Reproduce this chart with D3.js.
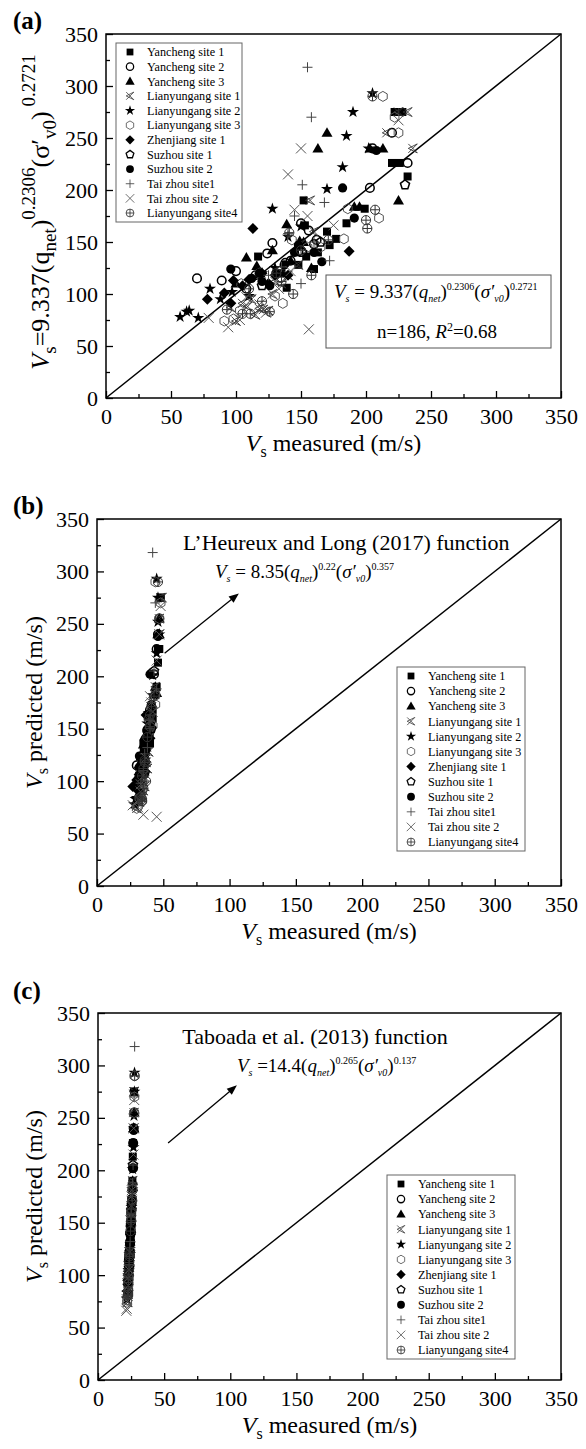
<!DOCTYPE html>
<html>
<head>
<meta charset="utf-8">
<script src="https://cdn.jsdelivr.net/npm/d3@7"></script>
<style>
  body { margin: 0; background: #fff; }
  svg { display: block; }
  svg text { font-family: "Liberation Serif", "Times New Roman", serif !important; }
</style>
</head>
<body>
<svg id="chart" width="586" height="1449"></svg>
<script>
// ---- data: per site, measured Vs (panel a x), predicted Vs (y, all panels),
// L'Heureux & Long value (panel b x), Taboada value (panel c x)
const siteNames = ["Yancheng site 1", "Yancheng site 2", "Yancheng site 3", "Lianyungang site 1",
  "Lianyungang site 2", "Lianyungang site 3", "Zhenjiang site 1", "Suzhou site 1", "Suzhou site 2",
  "Tai zhou site1", "Tai zhou site 2", "Lianyungang site4"];
const siteSymbols = ["square", "circle", "triangle", "bowtie", "star", "hexagon", "diamond",
  "pentagon", "dot", "plus", "cross", "oplus"];

const yc1Meas = [117, 154, 160, 170, 177, 172, 199, 152, 222, 228, 220, 226, 139, 232, 135, 148, 163, 185, 153];
const yc1Pred = [136, 136, 124, 160, 153, 147, 182, 190, 275, 275, 226, 226, 106, 213, 120, 128, 140, 168, 166];
const yc1LH   = [35, 40, 36, 42, 41, 40, 44, 45, 48, 48, 46, 47, 34, 46, 35, 37, 38, 42, 41];
const yc1TB   = [24.5, 24.6, 24.2, 25.3, 25.2, 25.0, 25.9, 26.0, 27.2, 27.3, 26.4, 26.5, 23.6, 26.3, 23.9, 24.1, 24.5, 25.5, 25.4];

const yc2Meas = [70, 89, 100, 124, 128, 148, 150, 160, 203, 205, 220, 232, 156, 142, 108, 115, 138, 162];
const yc2Pred = [115, 113, 122, 139, 149, 141, 168, 148, 202, 240, 255, 226, 161, 132, 105, 118, 130, 152];
const yc2LH   = [30, 32, 33, 36, 38, 37, 40, 38, 43, 46, 47, 45, 39, 36, 32, 34, 36, 40];
const yc2TB   = [23.4, 23.3, 23.8, 24.5, 24.8, 24.7, 25.4, 24.9, 26.5, 27.0, 27.4, 26.6, 25.2, 24.3, 23.2, 23.8, 24.2, 25.0];

const yc3Meas = [108, 116, 128, 139, 158, 149, 191, 163, 170, 195, 203, 213, 225, 100, 118, 142, 152];
const yc3Pred = [135, 127, 142, 167, 125, 151, 184, 240, 255, 184, 240, 240, 190, 110, 120, 132, 150];
const yc3LH   = [35, 34, 37, 40, 36, 39, 44, 46, 47, 45, 46, 47, 44, 32, 35, 37, 39];
const yc3TB   = [24.2, 24.0, 24.5, 25.3, 24.4, 24.9, 26.0, 27.0, 27.4, 26.1, 27.1, 27.0, 26.2, 23.5, 23.9, 24.2, 24.8];

const lyg1Meas = [96, 105, 118, 121, 125, 100, 112, 130, 148, 157, 225, 232, 236, 140, 216, 109, 115, 128, 135, 150, 160];
const lyg1Pred = [87, 91, 86, 85, 84, 74, 95, 112, 128, 190, 275, 275, 240, 118, 255, 88, 80, 100, 110, 148, 160];
const lyg1LH   = [33, 35, 34, 33, 34, 30, 36, 38, 39, 44, 48, 49, 47, 37, 47, 33, 32, 35, 36, 39, 41];
const lyg1TB   = [23.0, 23.2, 23.0, 22.9, 22.8, 22.4, 23.3, 24.0, 24.5, 26.2, 27.2, 27.3, 27.0, 23.9, 27.2, 22.9, 22.6, 23.3, 23.6, 24.8, 25.2];

const lyg2Meas = [57, 62, 64, 71, 80, 88, 110, 128, 130, 140, 150, 170, 182, 190, 205, 202, 185, 97, 120];
const lyg2Pred = [78, 83, 84, 77, 105, 95, 98, 182, 125, 155, 165, 201, 222, 275, 293, 240, 252, 102, 120];
const lyg2LH   = [28, 29, 30, 29, 32, 31, 33, 42, 35, 38, 39, 42, 45, 46, 45, 47, 46, 32, 34];
const lyg2TB   = [21.9, 22.1, 22.2, 21.9, 23.0, 22.6, 22.9, 25.9, 24.1, 24.9, 25.3, 26.2, 26.8, 27.5, 27.6, 27.0, 27.2, 23.1, 23.7];

const lyg3Meas = [91, 98, 136, 143, 183, 210, 186, 213, 225, 222, 165, 118, 103, 130, 155, 104];
const lyg3Pred = [74, 76, 91, 152, 153, 173, 182, 290, 255, 270, 145, 120, 84, 98, 145, 110];
const lyg3LH   = [30, 31, 34, 40, 42, 44, 44, 44, 47, 48, 39, 34, 32, 34, 39, 33];
const lyg3TB   = [22.0, 22.1, 22.9, 25.0, 25.1, 25.7, 26.0, 27.6, 27.3, 27.5, 24.8, 23.8, 22.8, 23.2, 24.7, 23.5];

const zj1Meas = [78, 91, 96, 113, 187, 110, 120, 125, 140, 98, 105, 130];
const zj1Pred = [95, 101, 91, 163, 141, 114, 120, 110, 118, 113, 108, 118];
const zj1LH   = [27, 30, 31, 37, 40, 34, 35, 34, 37, 32, 33, 35];
const zj1TB   = [22.5, 22.8, 22.6, 25.1, 24.8, 23.6, 23.9, 23.5, 23.9, 23.4, 23.4, 23.7];

const sz1Meas = [230, 165, 151, 120];
const sz1Pred = [205, 150, 140, 108];
const sz1LH   = [43, 41, 39, 36];
const sz1TB   = [26.4, 25.0, 24.6, 23.6];

const sz2Meas = [96, 126, 166, 191, 148, 118, 182, 208, 112, 160, 137, 145, 120];
const sz2Pred = [124, 108, 131, 173, 147, 120, 202, 238, 115, 140, 128, 140, 112];
const sz2LH   = [32, 35, 37, 41, 38, 34, 40, 46, 33, 38, 36, 38, 35];
const sz2TB   = [23.8, 23.5, 24.4, 25.6, 24.6, 23.8, 26.3, 27.0, 23.7, 24.5, 24.1, 24.4, 23.6];

const tz1Meas = [155, 158, 172, 111, 151, 140, 168, 145, 125, 135, 160, 150];
const tz1Pred = [318, 270, 132, 98, 205, 158, 188, 175, 118, 126, 150, 110];
const tz1LH   = [42, 44, 38, 33, 43, 40, 45, 41, 36, 36, 40, 35];
const tz1TB   = [27.7, 27.3, 24.3, 22.8, 26.5, 25.1, 26.1, 25.6, 23.8, 24.0, 24.9, 23.5];

const tz2Meas = [94, 156, 79, 103, 145, 155, 175, 150, 225, 140, 108, 118, 123, 133, 142];
const tz2Pred = [68, 66, 77, 75, 181, 175, 166, 240, 267, 215, 97, 90, 82, 105, 122];
const tz2LH   = [35, 45, 27, 31, 40, 41, 42, 47, 48, 45, 33, 33, 32, 35, 37];
const tz2TB   = [21.7, 21.4, 21.8, 22.2, 25.6, 25.4, 25.3, 27.0, 27.4, 26.8, 22.6, 22.9, 22.7, 23.4, 23.9];

const lyg4Meas = [93, 105, 111, 120, 126, 144, 141, 200, 201, 207, 205, 131, 171, 110, 135, 150, 158];
const lyg4Pred = [85, 81, 81, 93, 83, 100, 159, 171, 163, 181, 290, 120, 152, 105, 112, 142, 118];
const lyg4LH   = [33, 34, 34, 35, 34, 37, 39, 41, 40, 43, 46, 36, 40, 34, 35, 38, 36];
const lyg4TB   = [22.8, 22.6, 22.7, 23.0, 22.7, 23.4, 25.0, 25.9, 25.4, 26.1, 27.7, 23.9, 25.1, 23.4, 23.6, 24.6, 23.8];

const majorTicks = [0, 50, 100, 150, 200, 250, 300, 350];
const minorTicks = [25, 75, 125, 175, 225, 275, 325];

const measBySite = [yc1Meas, yc2Meas, yc3Meas, lyg1Meas, lyg2Meas, lyg3Meas, zj1Meas, sz1Meas, sz2Meas, tz1Meas, tz2Meas, lyg4Meas];
const predBySite = [yc1Pred, yc2Pred, yc3Pred, lyg1Pred, lyg2Pred, lyg3Pred, zj1Pred, sz1Pred, sz2Pred, tz1Pred, tz2Pred, lyg4Pred];
const lhBySite   = [yc1LH, yc2LH, yc3LH, lyg1LH, lyg2LH, lyg3LH, zj1LH, sz1LH, sz2LH, tz1LH, tz2LH, lyg4LH];
const tbBySite   = [yc1TB, yc2TB, yc3TB, lyg1TB, lyg2TB, lyg3TB, zj1TB, sz1TB, sz2TB, tz1TB, tz2TB, lyg4TB];

const svg = d3.select("#chart");
const plotRight = 561;

// symbol drawing
function polyPath(n, r, rot) {
  const pts = d3.range(n).map(i => {
    const a = rot + i * 2 * Math.PI / n;
    return [r * Math.cos(a), r * Math.sin(a)];
  });
  return "M" + pts.map(p => p[0].toFixed(2) + "," + p[1].toFixed(2)).join("L") + "Z";
}

function marker(g, type, x, y, k) {
  k = k || 1;
  const m = g.append("g").attr("transform", `translate(${x},${y}) scale(${k})`);
  if (type === "square") {
    m.append("rect").attr("x", -4).attr("y", -4).attr("width", 8).attr("height", 8).attr("fill", "#000");
  } else if (type === "circle") {
    m.append("circle").attr("r", 4.3).attr("fill", "none").attr("stroke", "#000").attr("stroke-width", 1.5);
  } else if (type === "triangle") {
    m.append("path").attr("d", "M0,-5.5L5.5,4L-5.5,4Z").attr("fill", "#000");
  } else if (type === "bowtie") {
    m.append("path").attr("d", "M-4.5,-4.5L4.5,4.5M-4.5,4.5L4.5,-4.5M4.5,-4.5L-4.5,0L4.5,4.5")
      .attr("fill", "none").attr("stroke", "#333").attr("stroke-width", 0.9);
  } else if (type === "star") {
    m.append("path").attr("d", d3.symbol(d3.symbolStar, 45)()).attr("fill", "#000");
  } else if (type === "hexagon") {
    m.append("path").attr("d", polyPath(6, 5, Math.PI / 2)).attr("fill", "none")
      .attr("stroke", "#555").attr("stroke-width", 1);
  } else if (type === "diamond") {
    m.append("path").attr("d", "M0,-5.5L5.5,0L0,5.5L-5.5,0Z").attr("fill", "#000");
  } else if (type === "pentagon") {
    m.append("path").attr("d", polyPath(5, 4.8, -Math.PI / 2)).attr("fill", "none")
      .attr("stroke", "#000").attr("stroke-width", 1.5);
  } else if (type === "dot") {
    m.append("circle").attr("r", 4.6).attr("fill", "#000");
  } else if (type === "plus") {
    m.append("path").attr("d", "M-5,0H5M0,-5V5").attr("stroke", "#444").attr("stroke-width", 1);
  } else if (type === "cross") {
    m.append("path").attr("d", "M-5,-5L5,5M-5,5L5,-5").attr("stroke", "#555").attr("stroke-width", 1);
  } else if (type === "oplus") {
    m.append("circle").attr("r", 4.6).attr("fill", "none").attr("stroke", "#333").attr("stroke-width", 1);
    m.append("path").attr("d", "M-4.6,0H4.6M0,-4.6V4.6").attr("stroke", "#333").attr("stroke-width", 1);
  }
}

// subscript/superscript helper: parts = [[text, kind]] where kind: n, i (italic), sub, sup
function richText(t, parts, base, small, supShift, subShift) {
  let cur = 0;
  parts.forEach(([txt, kind]) => {
    const ts = t.append("tspan").text(txt);
    let target = 0, size = base;
    if (kind === "sub" || kind === "isub") { target = subShift; size = small; }
    if (kind === "sup") { target = -supShift; size = small; }
    ts.attr("font-size", size).attr("dy", target - cur);
    if (kind === "i" || kind === "isub") ts.attr("font-style", "italic");
    cur = target;
  });
}

const panels = [
  { label: "(a)", labelY: 29, left: 106, top: 34, bottom: 398, xs: measBySite },
  { label: "(b)", labelY: 514, left: 97, top: 519, bottom: 886, xs: lhBySite,
    legend: { x: 397, y: 667, w: 128, h: 184 } },
  { label: "(c)", labelY: 999, left: 98, top: 1013, bottom: 1380, xs: tbBySite,
    legend: { x: 387, y: 1175, w: 128, h: 184 } }
];
panels[0].legend = { x: 116, y: 43, w: 126, h: 179 };

panels.forEach((p, pi) => {
  const x = d3.scaleLinear().domain([0, 350]).range([p.left, plotRight]);
  const y = d3.scaleLinear().domain([0, 350]).range([p.bottom, p.top]);
  const g = svg.append("g").attr("font-family", "Liberation Serif");

  // panel letter
  g.append("text").attr("x", 13).attr("y", p.labelY).attr("font-size", 25)
    .attr("font-weight", "bold").text(p.label);

  // axes
  g.append("g").attr("transform", `translate(0,${p.bottom})`)
    .call(d3.axisBottom(x).tickValues(majorTicks).tickSize(-7).tickPadding(10));
  g.append("g").attr("transform", `translate(0,${p.bottom})`)
    .call(d3.axisBottom(x).tickValues(minorTicks).tickSize(-4).tickFormat(""));
  g.append("g").attr("transform", `translate(${p.left},0)`)
    .call(d3.axisLeft(y).tickValues(majorTicks).tickSize(-7).tickPadding(8));
  g.append("g").attr("transform", `translate(${p.left},0)`)
    .call(d3.axisLeft(y).tickValues(minorTicks).tickSize(-4).tickFormat(""));
  g.selectAll(".domain").remove();
  g.selectAll(".tick line").attr("stroke", "#000").attr("stroke-width", 1.3);
  g.selectAll(".tick text").attr("font-size", 22).attr("fill", "#000");

  // frame
  g.append("rect").attr("x", p.left).attr("y", p.top).attr("width", plotRight - p.left)
    .attr("height", p.bottom - p.top).attr("fill", "none").attr("stroke", "#000").attr("stroke-width", 1.5);

  // 1:1 line
  g.append("line").attr("x1", x(0)).attr("y1", y(0)).attr("x2", x(350)).attr("y2", y(350))
    .attr("stroke", "#000").attr("stroke-width", 1.5);

  // points
  const pts = g.append("g");
  siteSymbols.forEach((sym, si) => {
    p.xs[si].forEach((xv, j) => marker(pts, sym, x(xv), y(predBySite[si][j]), 1));
  });

  // x axis title
  const xt = g.append("text").attr("x", (p.left + plotRight) / 2).attr("y", p.bottom + 53)
    .attr("text-anchor", "middle");
  richText(xt, [["V", "i"], ["s", "sub"], [" measured (m/s)", "n"]], 24, 16, 0, 6);

  // y axis title
  if (pi === 0) {
    const yt = g.append("text").attr("transform", `translate(49,${(p.top + p.bottom) / 2 - 4}) rotate(-90)`)
      .attr("text-anchor", "middle");
    richText(yt, [["V", "i"], ["s", "sub"], ["=9.337(q", "n"], ["net", "sub"], [")", "n"],
      ["0.2306", "sup"], ["(σ′", "n"], ["v0", "sub"], [")", "n"], [" 0.2721", "sup"]], 26, 19, 14, 7);
  } else {
    const yt = g.append("text").attr("transform", `translate(42,${(p.top + p.bottom) / 2}) rotate(-90)`)
      .attr("text-anchor", "middle");
    richText(yt, [["V", "i"], ["s", "sub"], [" predicted (m/s)", "n"]], 24, 16, 0, 6);
  }

  // legend
  const L = p.legend;
  const lg = g.append("g");
  lg.append("rect").attr("x", L.x).attr("y", L.y).attr("width", L.w).attr("height", L.h)
    .attr("fill", "#fff").attr("stroke", "#666").attr("stroke-width", 1);
  const step = (L.h - 18) / 11;
  siteNames.forEach((nm, i) => {
    const ly = L.y + 9 + i * step;
    marker(lg, siteSymbols[i], L.x + 14, ly, 0.85);
    lg.append("text").attr("x", L.x + 31).attr("y", ly).attr("dy", "0.35em")
      .attr("font-size", 12.2).text(nm);
  });

  // annotations
  if (pi === 0) {
    g.append("rect").attr("x", 326).attr("y", 275).attr("width", 225).attr("height", 73)
      .attr("fill", "#fff").attr("stroke", "#555").attr("stroke-width", 1);
    const e1 = g.append("text").attr("x", 334).attr("y", 298);
    richText(e1, [["V", "i"], ["s", "isub"], [" = 9.337(", "n"], ["q", "i"], ["net", "isub"], [")", "n"],
      ["0.2306", "sup"], ["(", "n"], ["σ′", "i"], ["v0", "isub"], [")", "n"], ["0.2721", "sup"]], 19, 10, 8, 4);
    const e2 = g.append("text").attr("x", 437).attr("y", 338).attr("text-anchor", "middle");
    richText(e2, [["n=186, ", "n"], ["R", "i"], ["2", "sup"], ["=0.68", "n"]], 19, 12, 7, 4);
  } else {
    const title = pi === 1 ? "L’Heureux and Long (2017) function" : "Taboada et al. (2013) function";
    const tx = pi === 1 ? 188 : 164;
    g.append("text").attr("x", x(tx)).attr("y", y(320)).attr("text-anchor", "middle")
      .attr("font-size", 22).text(title);
    const eq = g.append("text").attr("x", pi === 1 ? x(89) : x(105)).attr("y", y(294));
    const parts = pi === 1
      ? [["V", "i"], ["s", "isub"], [" = 8.35(", "n"], ["q", "i"], ["net", "isub"], [")", "n"],
         ["0.22", "sup"], ["(", "n"], ["σ′", "i"], ["v0", "isub"], [")", "n"], ["0.357", "sup"]]
      : [["V", "i"], ["s", "isub"], [" =14.4(", "n"], ["q", "i"], ["net", "isub"], [")", "n"],
         ["0.265", "sup"], ["(", "n"], ["σ′", "i"], ["v0", "isub"], [")", "n"], ["0.137", "sup"]];
    richText(eq, parts, 19, 10, 8, 4);
    // arrow
    const a0 = pi === 1 ? [51, 222] : [53, 226];
    const a1 = pi === 1 ? [107, 279] : [105, 281];
    const X0 = x(a0[0]), Y0 = y(a0[1]), X1 = x(a1[0]), Y1 = y(a1[1]);
    const ang = Math.atan2(Y1 - Y0, X1 - X0);
    g.append("line").attr("x1", X0).attr("y1", Y0).attr("x2", X1 - 6 * Math.cos(ang)).attr("y2", Y1 - 6 * Math.sin(ang))
      .attr("stroke", "#000").attr("stroke-width", 1.3);
    const hl = 10, hw = 4;
    const bx = X1 - hl * Math.cos(ang), by = Y1 - hl * Math.sin(ang);
    g.append("path").attr("d", `M${X1},${Y1}L${bx - hw * Math.sin(ang)},${by + hw * Math.cos(ang)}L${bx + hw * Math.sin(ang)},${by - hw * Math.cos(ang)}Z`)
      .attr("fill", "#000");
  }
});
</script>
</body>
</html>
